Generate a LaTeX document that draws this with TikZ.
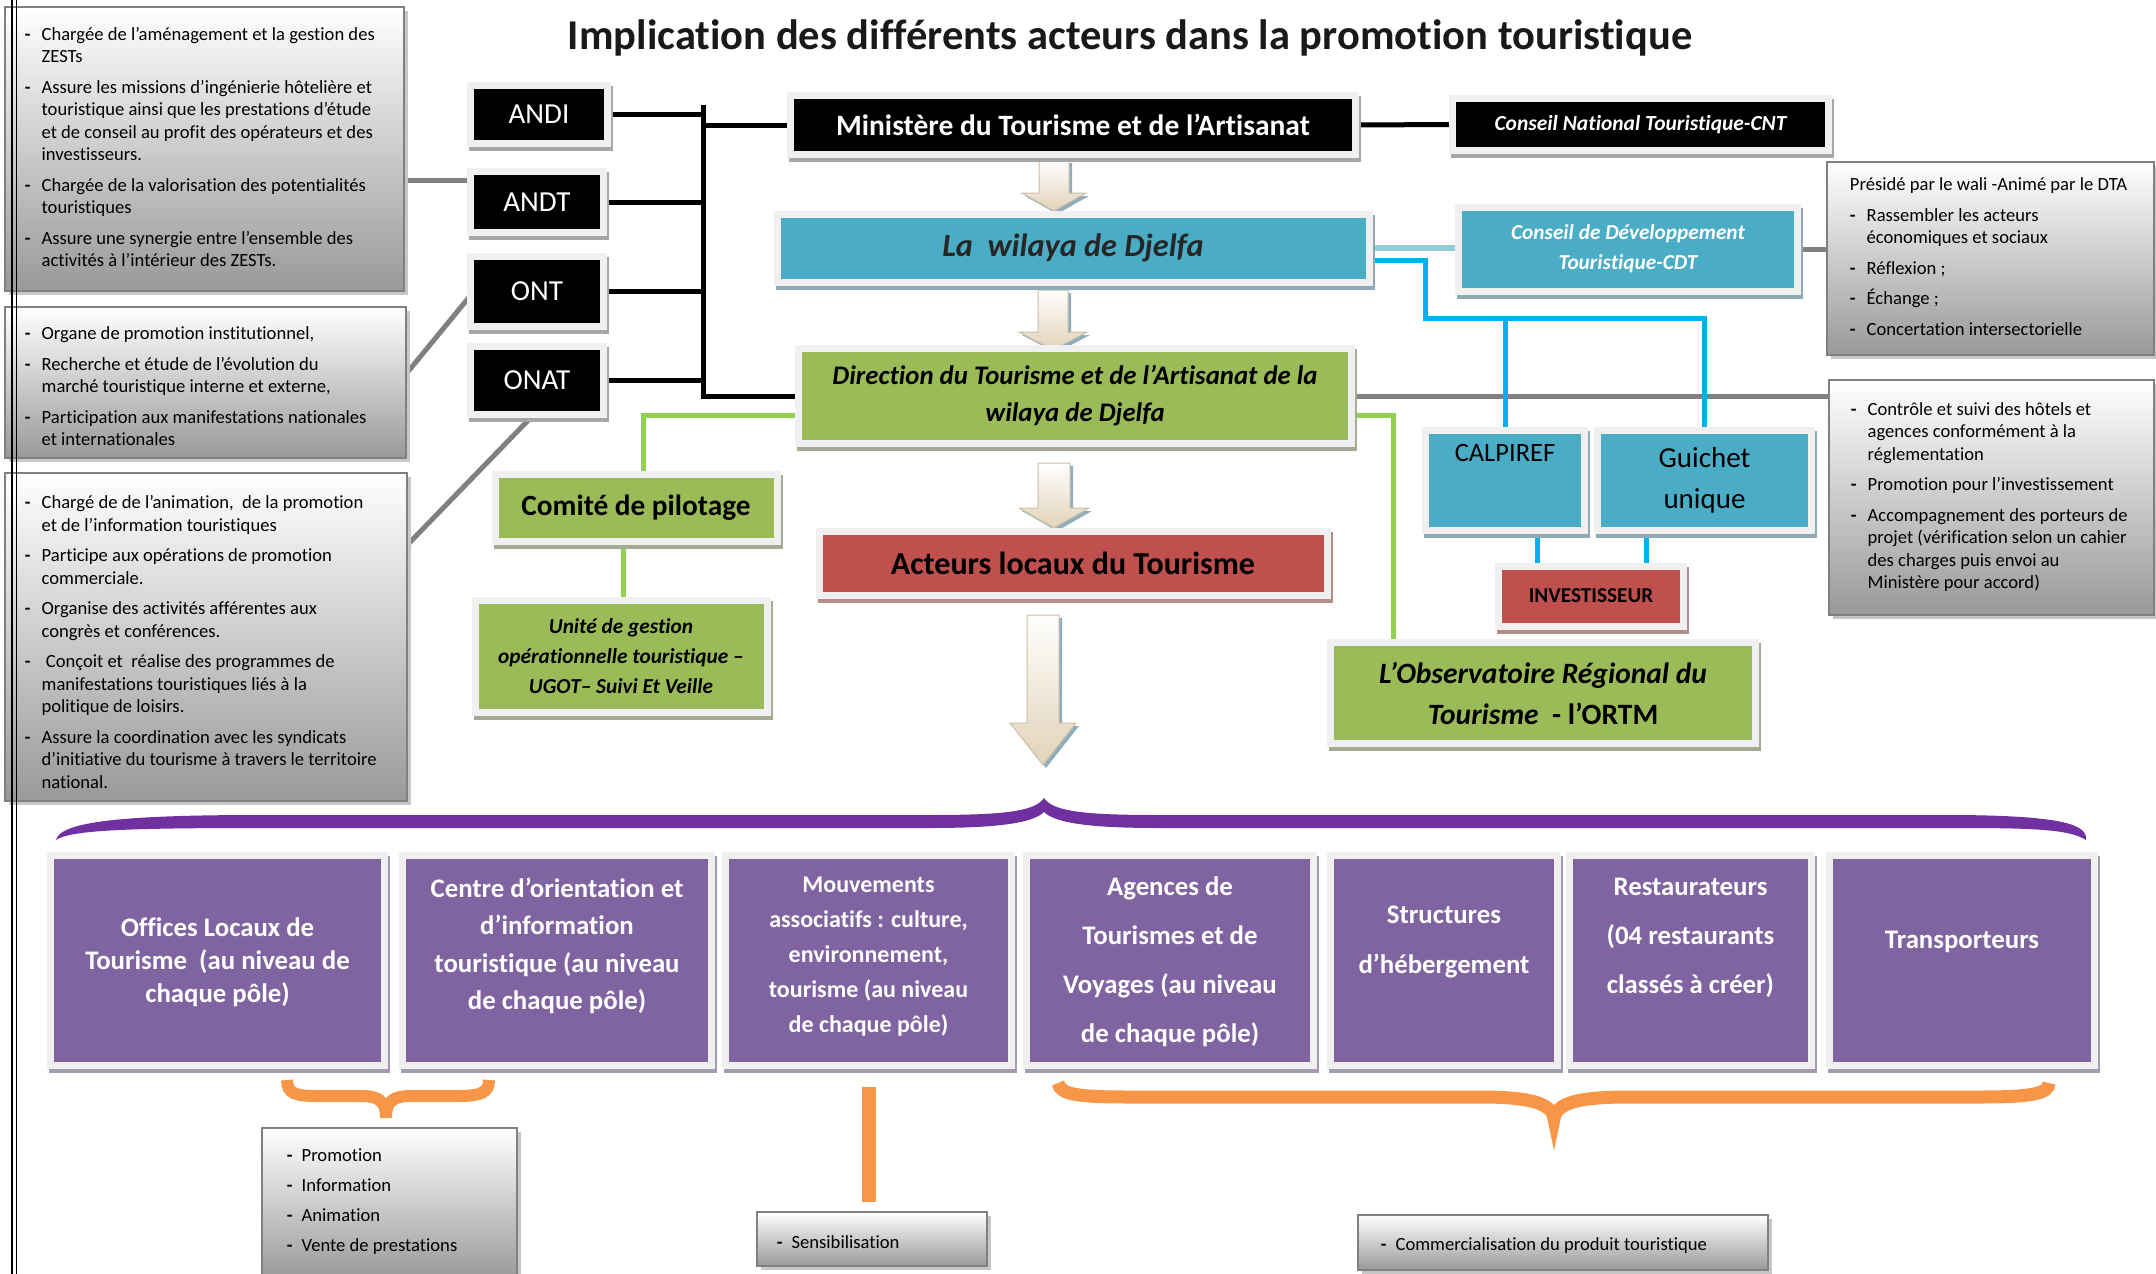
\documentclass[tikz,border=0pt]{standalone}
\usepackage{fontspec}
\setmainfont{Carlito}[Ligatures=NoCommon]
\usetikzlibrary{calc}
\pgfdeclarelayer{background}
\pgfsetlayers{background,main}
\definecolor{framec}{HTML}{F0F0F0}
\definecolor{shadc}{HTML}{A6A6A6}
\definecolor{tealc}{HTML}{4BACC6}
\definecolor{tealsh}{HTML}{8EAAB5}
\definecolor{greenc}{HTML}{9BBB59}
\definecolor{greensh}{HTML}{A4AB94}
\definecolor{redc}{HTML}{C0504D}
\definecolor{redsh}{HTML}{B48E8E}
\definecolor{purpc}{HTML}{8064A2}
\definecolor{purpsh}{HTML}{A49BB2}
\definecolor{bracep}{HTML}{7030A0}
\definecolor{orng}{HTML}{F79646}
\definecolor{bluel}{HTML}{00B0F0}
\definecolor{lblue}{HTML}{92CDDC}
\definecolor{lgreen}{HTML}{92D050}
\definecolor{grayl}{HTML}{808080}
\definecolor{beige}{HTML}{E2D3B8}
\definecolor{arrsh}{HTML}{8FADBD}

\newcommand{\dsh}{\textbf{-}}
\newcommand{\blockarr}[6]{%
  \fill[arrsh, shift={(3,3)}] ({#1-#5},#2) -- ({#1+#5},#2) -- ({#1+#5},#3) -- ({#1+#6},#3) -- (#1,#4) -- ({#1-#6},#3) -- ({#1-#5},#3) -- cycle;
  \path[draw=beige!90!black, line width=1pt, top color=white, bottom color=beige] ({#1-#5},#2) -- ({#1+#5},#2) -- ({#1+#5},#3) -- ({#1+#6},#3) -- (#1,#4) -- ({#1-#6},#3) -- ({#1-#5},#3) -- cycle;
}

\tikzset{
  fbox/.style={inner sep=0pt, align=center,
    preaction={draw=#1, line width=14pt, transform canvas={xshift=2pt,yshift=-4pt}},
    preaction={draw=framec, line width=14pt}},
  fbox/.default=shadc,
  blackbox/.style={fbox, fill=black, text=white, font=\fontsize{29}{34}\selectfont},
  purpbox/.style={fbox=purpsh, fill=purpc, minimum height=203pt},
  ptxt/.style={inner sep=0pt, align=center, text=white},
  graybox/.style={draw=grayl, line width=2.5pt, top color=white, bottom color=black!40,
    preaction={fill=black!22, transform canvas={xshift=4pt,yshift=-4pt}}, inner sep=0pt},
  gtxt/.style={inner sep=0pt, font=\fontsize{18.6}{22.5}\selectfont},
  blk/.style={draw=black, line width=5pt},
  gry/.style={draw=grayl, line width=5pt},
  bl/.style={draw=bluel, line width=5pt},
  gr/.style={draw=lgreen, line width=5pt},
}

\begin{document}
\begin{tikzpicture}[x=1pt, y=-1pt]
\useasboundingbox (0,0) rectangle (2156,1274);

\node[font=\fontsize{42.5}{48}\selectfont\bfseries, text=black!90] (title) at (1130,38) {Implication des différents acteurs dans la promotion touristique};

% acronym boxes
\node[blackbox, minimum width=130pt, minimum height=51pt] (andi) at (539,114.5) {ANDI};
\node[blackbox, minimum width=126pt, minimum height=54pt] (andt) at (537,202) {ANDT};
\node[blackbox, minimum width=126pt, minimum height=63pt] (ont) at (537,291.5) {ONT};
\node[blackbox, minimum width=126pt, minimum height=61pt] (onat) at (537,380.5) {ONAT};

% central column
\node[blackbox, minimum width=558pt, minimum height=52pt, font=\fontsize{29.5}{34}\selectfont\bfseries] (mta) at (1073,125) {Ministère du Tourisme et de l’Artisanat};
\node[blackbox, minimum width=369pt, minimum height=45pt, font=\fontsize{21.5}{26}\selectfont\bfseries\itshape] (cnt) at (1640.5,124.5) {Conseil National Touristique-CNT};
\node[fbox=tealsh, fill=tealc, minimum width=585pt, minimum height=61pt, font=\fontsize{32.3}{38}\selectfont\bfseries\itshape, text=black!85] (wil) at (1073,248) {La\ \ wilaya de Djelfa};
\node[fbox=tealsh, fill=tealc, text=white, minimum width=332pt, minimum height=77pt, font=\fontsize{21.3}{30}\selectfont\bfseries\itshape] (cdt) at (1628,249) {Conseil de Développement\\Touristique-CDT};
\node[fbox=greensh, fill=greenc, minimum width=546pt, minimum height=88pt, font=\fontsize{26.8}{37}\selectfont\bfseries\itshape] (dta) at (1075,396) {Direction du Tourisme et de l’Artisanat de la\\wilaya de Djelfa};
\node[fbox=redsh, fill=redc, minimum width=501pt, minimum height=57pt, font=\fontsize{32}{36}\selectfont\bfseries] (act) at (1073,563) {Acteurs locaux du Tourisme};
\node[fbox=greensh, fill=greenc, minimum width=275pt, minimum height=60pt, font=\fontsize{29.3}{34}\selectfont\bfseries] (com) at (636,508) {Comité de pilotage};
\node[fbox=greensh, fill=greenc, minimum width=285pt, minimum height=105pt, font=\fontsize{21.3}{30}\selectfont\bfseries\itshape] (ugot) at (621,656) {Unité de gestion\\opérationnelle touristique –\\UGOT– Suivi Et Veille};
\node[fbox=tealsh, fill=tealc, minimum width=152pt, minimum height=93pt, font=\fontsize{26.5}{41}\selectfont] (calp) at (1505,480) {CALPIREF\\\strut};
\node[fbox=tealsh, fill=tealc, minimum width=207pt, minimum height=93pt, font=\fontsize{29}{41}\selectfont] (guich) at (1704.5,480) {Guichet\\unique};
\node[fbox=redsh, fill=redc, minimum width=178pt, minimum height=53pt, font=\fontsize{21.2}{24}\selectfont\bfseries] (inv) at (1591,596) {INVESTISSEUR};
\node[fbox=greensh, fill=greenc, minimum width=418pt, minimum height=94pt, font=\fontsize{29.5}{41}\selectfont\bfseries] (obs) at (1543,693) {\textit{L’Observatoire Régional du}\\\textit{Tourisme}\ \ - l’ORTM};

% purple boxes
\node[purpbox, minimum width=327pt] (p1) at (217.5,960.5) {};
\node[purpbox, minimum width=302pt] (p2) at (557,960.5) {};
\node[purpbox, minimum width=279pt] (p3) at (868.5,960.5) {};
\node[purpbox, minimum width=280pt] (p4) at (1170,960.5) {};
\node[purpbox, minimum width=220pt] (p5) at (1444,960.5) {};
\node[purpbox, minimum width=235pt] (p6) at (1690.5,960.5) {};
\node[purpbox, minimum width=258pt] (p7) at (1962,960.5) {};
\node[ptxt, font=\fontsize{26.8}{33}\selectfont\bfseries] (p1t) at (217.5,962) {Offices Locaux de\\Tourisme\ \ (au niveau de\\chaque pôle)};
\node[ptxt, font=\fontsize{26.8}{37.5}\selectfont\bfseries] (p2t) at (557,946) {Centre d’orientation et\\d’information\\touristique (au niveau\\de chaque pôle)};
\node[ptxt, font=\fontsize{24}{35}\selectfont\bfseries] (p3t) at (868.5,957) {Mouvements\\associatifs : culture,\\environnement,\\tourisme (au niveau\\de chaque pôle)};
\node[ptxt, font=\fontsize{26.8}{49}\selectfont\bfseries] (p4t) at (1170,962) {Agences de\\Tourismes et de\\Voyages (au niveau\\de chaque pôle)};
\node[ptxt, font=\fontsize{26.8}{49.5}\selectfont\bfseries] (p5t) at (1444,942) {Structures\\d’hébergement};
\node[ptxt, font=\fontsize{26.8}{49}\selectfont\bfseries] (p6t) at (1690.5,938) {Restaurateurs\\(04 restaurants\\classés à créer)};
\node[ptxt, font=\fontsize{26.8}{32}\selectfont\bfseries] (p7t) at (1962,942) {Transporteurs};

% gray description boxes
\node[graybox, minimum width=399pt, minimum height=284pt] (g1) at (204.5,149) {};
\node[gtxt, anchor=west] (g1t) at ([xshift=21pt]g1.west) {\begin{tabular}{@{}l@{\hspace{11pt}}l@{}}
\dsh & Chargée de l’aménagement et la gestion des\\
  & ZESTs\\[8pt]
\dsh & Assure les missions d’ingénierie hôtelière et\\
  & touristique ainsi que les prestations d’étude\\
  & et de conseil au profit des opérateurs et des\\
  & investisseurs.\\[8pt]
\dsh & Chargée de la valorisation des potentialités\\
  & touristiques\\[8pt]
\dsh & Assure une synergie entre l’ensemble des\\
  & activités à l’intérieur des ZESTs.
\end{tabular}};

\node[graybox, minimum width=401pt, minimum height=151pt] (g2) at (205.5,382.5) {};
\begin{scope}
\clip (g2.north west) rectangle ([yshift=11pt]g2.south east);
\node[gtxt, anchor=north west] (g2t) at ([xshift=21pt,yshift=-18pt]g2.north west) {\begin{tabular}{@{}l@{\hspace{11pt}}l@{}}
\dsh & Organe de promotion institutionnel,\\[8pt]
\dsh & Recherche et étude de l’évolution du\\
  & marché touristique interne et externe,\\[8pt]
\dsh & Participation aux manifestations nationales\\
  & et internationales
\end{tabular}};
\end{scope}

\node[graybox, minimum width=402pt, minimum height=328pt] (g3) at (206,637) {};
\node[gtxt, anchor=west] (g3t) at ([xshift=21pt,yshift=-7pt]g3.west) {\begin{tabular}{@{}l@{\hspace{11pt}}l@{}}
\dsh & Chargé de de l’animation,\ \ de la promotion\\
  & et de l’information touristiques\\[8pt]
\dsh & Participe aux opérations de promotion\\
  & commerciale.\\[8pt]
\dsh & Organise des activités afférentes aux\\
  & congrès et conférences.\\[8pt]
\dsh & \ Conçoit et\ \ réalise des programmes de\\
  & manifestations touristiques liés à la\\
  & politique de loisirs.\\[8pt]
\dsh & Assure la coordination avec les syndicats\\
  & d’initiative du tourisme à travers le territoire\\
  & national.
\end{tabular}};

\node[graybox, minimum width=327pt, minimum height=193pt] (g4) at (1990.5,258.5) {};
\node[gtxt, anchor=west] (g4t) at ([xshift=24pt]g4.west) {\begin{tabular}{@{}l@{\hspace{11pt}}l@{}}
\multicolumn{2}{@{}l@{}}{Présidé par le wali -Animé par le DTA}\\[8pt]
\dsh & Rassembler les acteurs\\
  & économiques et sociaux\\[8pt]
\dsh & Réflexion ;\\[8pt]
\dsh & Échange ;\\[8pt]
\dsh & Concertation intersectorielle
\end{tabular}};

\node[graybox, minimum width=325pt, minimum height=235pt] (g5) at (1991.5,497.5) {};
\node[gtxt, anchor=west] (g5t) at ([xshift=23pt]g5.west) {\begin{tabular}{@{}l@{\hspace{11pt}}l@{}}
\dsh & Contrôle et suivi des hôtels et\\
  & agences conformément à la\\
  & réglementation\\[8pt]
\dsh & Promotion pour l’investissement\\[8pt]
\dsh & Accompagnement des porteurs de\\
  & projet (vérification selon un cahier\\
  & des charges puis envoi au\\
  & Ministère pour accord)
\end{tabular}};

\node[graybox, minimum width=255pt, minimum height=152pt] (g6) at (389.5,1204) {};
\node[gtxt, font=\fontsize{18.6}{30}\selectfont, anchor=north west] (g6t) at ([xshift=26pt,yshift=-14pt]g6.north west) {\begin{tabular}{@{}l@{\hspace{9pt}}l@{}}
\dsh & Promotion\\
\dsh & Information\\
\dsh & Animation\\
\dsh & Vente de prestations
\end{tabular}};

\node[graybox, minimum width=230pt, minimum height=54pt] (g7) at (872,1239) {};
\node[gtxt, anchor=west] (g7t) at ([xshift=21pt,yshift=-3pt]g7.west) {\dsh\hspace{9pt}Sensibilisation};

\node[graybox, minimum width=410pt, minimum height=55pt] (g8) at (1563,1242.5) {};
\node[gtxt, anchor=west] (g8t) at ([xshift=24pt,yshift=-3pt]g8.west) {\dsh\hspace{9pt}Commercialisation du produit touristique};

% connectors (background)
\coordinate (bustop) at (703,107);
\coordinate (bj) at (1425,318);
\coordinate (g1a) at ([yshift=-31pt]g1.east);
\coordinate (g2a) at ([yshift=10pt]g2.east);
\coordinate (g3a) at ([yshift=93pt]g3.east);
\coordinate (w1) at ([yshift=-12pt]wil.east);
\coordinate (c1) at ([xshift=32pt]calp.south);
\coordinate (c2) at ([xshift=-58pt]guich.south);
\coordinate (d1) at ([yshift=-19pt]dta.west);
\coordinate (d2) at ([yshift=-19pt]dta.east);
\coordinate (c3) at ([xshift=-13pt]com.south);
\coordinate (o1) at ([yshift=-25pt]p3.south);
\coordinate (o2) at ([yshift=9pt]g7.north);
\begin{pgfonlayer}{background}
  \draw[blk, line cap=rect] (bustop) -- (bustop |- dta.west);
  \draw[blk] (andi.east) -- (andi.east -| bustop);
  \draw[blk] (andt.east) -- (andt.east -| bustop);
  \draw[blk] (ont.east) -- (ont.east -| bustop);
  \draw[blk] (onat.east) -- (onat.east -| bustop);
  \draw[blk] (mta.west) -- (mta.west -| bustop);
  \draw[blk] (dta.west) -- (dta.west -| bustop);
  \draw[blk] (mta.east) -- (cnt.west);
  \draw[gry] (g1a) -- (g1a -| andt.west);
  \draw[gry] (g2a) -- (ont.west);
  \draw[gry] (g3a) -- (onat.south);
  \draw[gry] (dta.east) -- (dta.east -| g5.west);
  \draw[gry] (cdt.east) -- (cdt.east -| g4.west);
  \draw[draw=lblue, line width=6pt] (wil.east) -- (wil.east -| cdt.west);
  \draw[bl] (w1) -| (bj) -- (bj -| guich.north) -- (guich.north);
  \draw[bl] (bj -| calp.north) -- (calp.north);
  \draw[bl] (c1) -- (c1 |- inv.north);
  \draw[bl] (c2) -- (c2 |- inv.north);
  \draw[gr] (d1) -| ([xshift=7pt]com.north);
  \draw[gr] (c3) -- (c3 |- ugot.north);
  \draw[gr] (d2) -| ([xshift=-150pt]obs.north);
  \blockarr{1054}{160}{193}{211}{15}{32}
  \blockarr{1053}{290}{332}{350}{15}{34}
  \blockarr{1054}{463}{508}{528}{16}{35}
  \blockarr{1043}{615}{723}{765}{16}{33}
\end{pgfonlayer}

% orange connectors
\draw[draw=orng, line width=14pt] (o1) -- (o1 |- o2);
\draw[draw=orng, line width=12pt] (287,1080) .. controls (287,1094) and (296,1096) .. (318,1096) -- (360,1096) .. controls (378,1096) and (386,1100) .. (386,1118) .. controls (386,1100) and (394,1096) .. (412,1096) -- (458,1096) .. controls (482,1096) and (489,1092) .. (489,1080);
\draw[draw=orng, line width=13pt] (1058,1083) .. controls (1060,1095) and (1080,1097) .. (1130,1097) -- (1480,1097) .. controls (1530,1097) and (1552,1103) .. (1554,1119) .. controls (1556,1103) and (1578,1097) .. (1628,1097) -- (1980,1097) .. controls (2030,1097) and (2049,1094) .. (2049,1083);

% purple brace
\fill[bracep] (56,840) .. controls (60,822) and (120,815) .. (260,815) -- (930,815) .. controls (1000,815) and (1035,812) .. (1044,798) .. controls (1053,812) and (1088,815) .. (1158,815) -- (1960,815) .. controls (2060,816) and (2088,824) .. (2086,840) .. controls (2070,830) and (2040,828) .. (1960,828) -- (1158,828) .. controls (1090,828) and (1055,823) .. (1044,812) .. controls (1033,823) and (998,828) .. (930,828) -- (260,828) .. controls (130,828) and (70,830) .. (56,840) -- cycle;

% page border double line
\draw[line width=1.3pt] (12,0) -- (12,1274);
\draw[line width=1.3pt] (16.5,0) -- (16.5,1274);
\end{tikzpicture}
\end{document}
